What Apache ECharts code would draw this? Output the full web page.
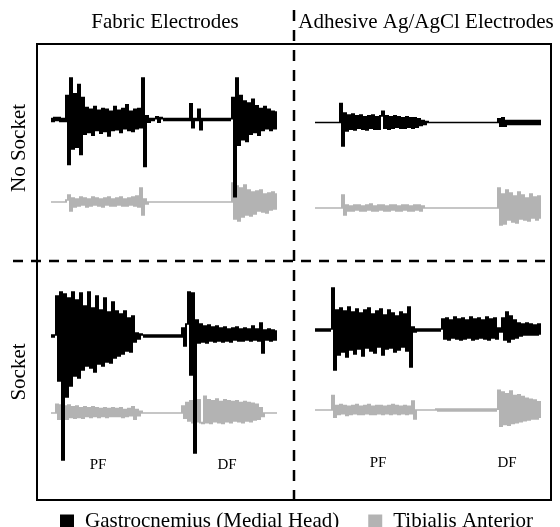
<!DOCTYPE html>
<html lang="en">
<head>
  <meta charset="UTF-8">
  <title>EMG fabric vs adhesive electrodes</title>
  <style>
    html, body { margin: 0; padding: 0; background: #fff; }
    #chart { width: 560px; height: 527px; }
  </style>
</head>
<body>
  <div id="chart"></div>
  <script src="https://cdn.jsdelivr.net/npm/echarts@6/dist/echarts.min.js"></script>
  <script>
    // muscles (legend) and panel labels
    const muscles = ['Gastrocnemius (Medial Head)', 'Tibialis Anterior']
    const electrodes = ['Fabric Electrodes', 'Adhesive Ag/AgCl Electrodes']
    const conditions = ['No Socket', 'Socket']
    const phases = ['PF', 'DF']

    // EMG traces, one sample every ~2px, value = deflection (px up)
    // fabric / no socket
    const tlGas = [1,-2,2,-1,2,-2,1,-2,
      26,-49,45,-32,28,-30,38,-38,24,
      -16,13,-14,11,-17,14,-12,10,-15,12,
      -13,11,-18,9,-12,14,-11,10,-14,12,
      -10,16,-12,9,-13,11,-10,12,-9,
      45,-51,4,-3,
      1,-1,1,
      3,-3,2,
      1,-1,1,-1,1,-1,1,-1,1,-1,1,-1,1,-1,
      17,-9,
      1,-1,
      11,-11,
      1,-1,1,-1,1,-1,1,-1,1,-1,1,-1,1,-1,1,
      24,-84,45,-28,26,-22,20,-24,18,-16,22,-14,15,-17,12,-12,14,-10,11,-12,9,-10,8]
    const tlTib = [0,0,0,0,0,0,0,0,
      2,7,-9,4,-5,3,-4,5,-3,4,
      -5,3,-4,5,-3,4,-4,3,-5,4,
      -3,5,-4,3,-4,4,-3,5,-4,3,
      -4,4,-3,5,-4,6,-5,14,
      -13,3,-2,
      0,0,0,0,0,0,0,0,0,0,0,0,0,0,0,0,0,0,0,0,0,0,0,0,0,0,0,0,0,0,0,0,0,0,0,0,0,0,0,0,0,0,
      19,-17,16,-19,14,-15,17,-13,12,-14,10,-12,11,-9,12,-10,8,-11,9,-8,10,-7,8]
    // adhesive / no socket
    const trGas = [0,0,0,0,0,0,0,0,0,0,0,0,0,
      20,-25,10,-9,8,-7,9,-8,7,-6,
      8,-7,6,-8,7,-6,8,-7,6,-7,
      7,12,-6,7,-7,6,-6,7,-5,6,
      -6,5,-6,6,-5,5,-6,5,-5,4,
      -3,2,-2,1,
      0,0,0,0,0,0,0,0,0,0,0,0,0,0,0,0,0,0,0,0,0,0,0,0,0,0,0,0,0,0,0,0,0,0,0,
      4,-4,5,-4,
      2,-2,2,-2,2,-2,2,-2,2,-2,2,-2,2,-2,2,-2,2,-2]
    const trTib = [0,0,0,0,0,0,0,0,0,0,0,0,0,0,
      13,-7,3,-3,2,-3,3,-2,3,-3,
      2,-3,3,-2,4,-3,2,-3,3,-2,
      3,-3,2,-3,3,-2,3,-3,2,-3,
      3,-2,3,-3,2,-3,3,-2,3,-3,2,
      0,0,0,0,0,0,0,0,0,0,0,0,0,0,0,0,0,0,0,0,0,0,0,0,0,0,0,0,0,0,0,0,0,0,0,0,0,
      20,-17,14,-16,18,-12,15,-14,12,-15,16,-11,
      13,-12,10,-13,14,-10,11,-12,12,-10]
    // fabric / socket
    const blGas = [1,-1,1,
      40,-45,44,-124,42,-61,38,-50,44,-40,36,-42,
      43,-34,30,-30,44,-32,28,-36,40,-28,
      26,-30,38,-26,24,-27,34,-22,25,-20,
      22,-18,25,-15,18,-16,20,
      -6,3,-3,2,
      1,-1,1,-1,1,-1,1,-1,1,-1,1,-1,1,-1,1,-1,1,-1,1,-1,
      8,-10,12,44,-39,43,-117,16,-7,
      12,-6,10,-7,11,-5,9,-6,10,-5,
      8,-6,9,-5,7,-6,8,-4,9,-5,
      7,-5,8,-4,7,-5,10,-4,7,-5,
      13,-17,6,-4,7,-5,6,-4,5]
    const blTib = [0,0,0,
      10,-7,9,-6,8,-7,9,-5,7,-6,
      8,-5,6,-6,7,-4,6,-5,7,-4,
      6,-5,5,-4,6,-5,5,-4,6,-4,
      5,-4,6,-5,4,-4,5,-3,7,-7,4,-3,2,
      0,0,0,0,0,0,0,0,0,0,0,0,0,0,0,0,0,0,0,0,
      8,-6,12,-9,14,-11,13,-10,15,-11,
      -12,19,-11,15,-12,14,-10,16,-11,13,
      -12,15,-10,14,-11,13,-9,14,-10,12,
      -11,13,-9,12,-10,11,-8,10,-7,6,-4,
      0,0,0,0,0,0,0]
    // adhesive / socket
    const brGas = [1,-1,1,-1,1,-1,1,-1,1,
      42,-40,20,-25,22,-22,19,-27,23,-20,
      18,-24,21,-19,17,-26,20,-18,22,-21,
      16,-23,19,-17,21,-25,15,-19,20,-18,
      17,-22,14,-20,18,-17,16,-21,23,-37,
      3,-2,
      1,-1,1,-1,1,-1,1,-1,1,-1,1,-1,1,
      11,-9,12,-10,10,-8,13,-9,11,-10,12,-9,10,-8,13,-10,11,-9,12,-8,10,-9,13,-10,11,-8,12,-9,
      2,-2,
      12,-10,18,-12,14,-9,10,-8,
      7,-6,6,-5,7,-5,6,-5,5,-5,6,-4]
    const brTib = [0,0,0,0,0,0,0,0,0,
      16,-8,5,-5,6,-4,5,-6,4,-5,
      5,-4,6,-5,4,-5,5,-4,6,-5,
      4,-5,5,-4,5,-5,4,-4,5,-5,
      6,-4,5,-5,4,-4,5,-5,4,-4,10,-10,
      0,0,0,0,0,0,0,0,0,0,
      1,-1,1,-1,1,-1,1,-1,1,-1,1,-1,1,-1,1,-1,1,-1,1,-1,1,-1,1,-1,1,-1,1,-1,1,-1,1,
      22,-18,20,-16,18,-17,21,-15,16,-14,17,-13,
      15,-12,13,-11,12,-10,11,-10,9,-8]

    const FONT = 'Liberation Serif'
    const BLACK = '#000000'
    const GREY = '#b3b3b3'

    // each trace: data, muscle, left edge and baseline (px)
    const traces = [
      { d: tlTib, m: 1, x: 51, base: 202 },
      { d: tlGas, m: 0, x: 51, base: 109 },
      { d: trTib, m: 1, x: 315, base: 208 },
      { d: trGas, m: 0, x: 315, base: 115 },
      { d: blTib, m: 1, x: 51, base: 429 },
      { d: blGas, m: 0, x: 51, base: 336 },
      { d: brTib, m: 1, x: 315, base: 423 },
      { d: brGas, m: 0, x: 315, base: 330 }
    ]
    const HALF = 130

    // one vertical stroke between two neighbouring samples
    function strokeMaker(col) {
      return function (params, api) {
        const i = api.value(0), a = api.value(1), b = api.value(2)
        const top = api.coord([i + 0.5, Math.max(a, b)])
        const bot = api.coord([i + 0.5, Math.min(a, b)])
        return {
          type: 'line',
          shape: { x1: top[0], y1: top[1] - 0.8, x2: bot[0], y2: bot[1] + 0.8 },
          style: { stroke: col, lineWidth: 2 }
        }
      }
    }

    const grid = [], xAxis = [], yAxis = [], series = []
    traces.forEach((t, k) => {
      grid.push({ left: t.x, top: t.base - HALF, width: 226, height: HALF * 2 })
      xAxis.push({ type: 'value', gridIndex: k, min: 0, max: 113, show: false })
      yAxis.push({ type: 'value', gridIndex: k, min: -HALF, max: HALF, show: false })
      const col = t.m === 0 ? BLACK : GREY
      series.push({
        type: 'custom',
        name: muscles[t.m],
        xAxisIndex: k,
        yAxisIndex: k,
        data: t.d.slice(0, -1).map((v, i) => [i, v, t.d[i + 1]]),
        renderItem: strokeMaker(col),
        silent: true,
        clip: false,
        z: t.m === 0 ? 3 : 2,
        itemStyle: { color: col }
      })
    })

    const txt = (text, x, y, size, extra) => Object.assign({
      type: 'text', x: x, y: y,
      style: { text: text, fill: '#000', font: size + 'px "' + FONT + '"', textAlign: 'center', textVerticalAlign: 'middle' }
    }, extra || {})

    const graphic = [
      { type: 'rect', shape: { x: 37, y: 44, width: 514, height: 456 }, style: { fill: 'none', stroke: '#000', lineWidth: 2 } },
      { type: 'line', shape: { x1: 294, y1: 10, x2: 294, y2: 500 }, style: { stroke: '#000', lineWidth: 2.5, lineDash: [11, 9] } },
      { type: 'line', shape: { x1: 13, y1: 261, x2: 551, y2: 261 }, style: { stroke: '#000', lineWidth: 2.5, lineDash: [10, 8] } },
      txt(electrodes[0], 165, 22, 21),
      txt(electrodes[1], 426, 22, 21),
      txt(conditions[0], 19, 148, 21, { rotation: Math.PI / 2 }),
      txt(conditions[1], 19, 372, 21, { rotation: Math.PI / 2 }),
      txt(phases[0], 98, 465, 15),
      txt(phases[1], 227, 465, 15),
      txt(phases[0], 378, 463, 15),
      txt(phases[1], 507, 463, 15)
    ]

    const chart = echarts.init(document.getElementById('chart'))
    chart.setOption({
      animation: false,
      backgroundColor: '#fff',
      grid: grid,
      xAxis: xAxis,
      yAxis: yAxis,
      series: series,
      graphic: graphic,
      legend: {
        left: 55,
        top: 506,
        itemWidth: 14,
        itemHeight: 14,
        itemGap: 29,
        selectedMode: false,
        data: muscles.map(n => ({ name: n, icon: 'rect', itemStyle: { color: n === muscles[0] ? BLACK : GREY } })),
        textStyle: { fontFamily: FONT, fontSize: 21, color: '#000', padding: [0, 0, 0, 6] }
      }
    })
  </script>
</body>
</html>
